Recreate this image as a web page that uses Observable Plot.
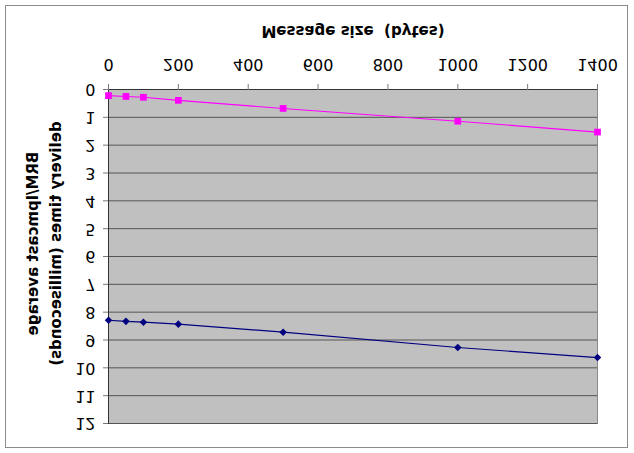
<!DOCTYPE html>
<html><head><meta charset="utf-8">
<script src="https://cdn.jsdelivr.net/npm/d3@7"></script>
<script src="https://cdn.jsdelivr.net/npm/@observablehq/plot@0.6"></script>
<style>
body{margin:0;background:#fff;}
#wrap{position:relative;width:634px;height:453px;overflow:hidden;}
#chart{width:634px;height:453px;transform:scaleY(-1);transform-origin:50% 50%;}
#chart svg{display:block;}
#border{position:absolute;left:5px;top:5px;width:621px;height:441px;border:1px solid #8c8c8c;pointer-events:none;}
</style></head><body>
<div id="wrap"><div id="chart"></div><div id="border"></div></div>
<script>
// Data read from the (vertically mirrored) reference chart
const messageSizes = [0, 50, 100, 200, 500, 1000, 1400];
const brmTimes = [0.22, 0.25, 0.28, 0.39, 0.68, 1.14, 1.53];
const lpmcastTimes = [8.29, 8.33, 8.36, 8.43, 8.72, 9.27, 9.63];
const xTicks = [0, 200, 400, 600, 800, 1000, 1200, 1400];
const yTicks = [0, 1, 2, 3, 4, 5, 6, 7, 8, 9, 10, 11, 12];
const xTitle = "Message size  (bytes)";
const yTitle = "BRM/lpmcast average\ndelivery times (milliseconds)";

const brm = messageSizes.map((x, i) => ({x, y: brmTimes[i]}));
const lpm = messageSizes.map((x, i) => ({x, y: lpmcastTimes[i]}));

const chart = Plot.plot({
  width: 634,
  height: 453,
  marginLeft: 108,
  marginRight: 37,
  marginTop: 29,
  marginBottom: 90,
  style: {fontFamily: "DejaVu Sans", fontSize: "16px", color: "black", background: "transparent"},
  x: {domain: [0, 1400]},
  y: {domain: [0, 12]},
  marks: [
    Plot.frame({fill: "#C0C0C0", stroke: "#8a8a8a"}),
    Plot.gridY(yTicks, {stroke: "#555", strokeOpacity: 1}),
    Plot.ruleX([0], {stroke: "#333"}),
    Plot.ruleY([0], {stroke: "#333"}),
    Plot.axisX(xTicks, {tickSize: 6, tickPadding: 13, fontSize: 16, label: null, stroke: "#777", fill: "black", tickFormat: d => String(d)}),
    Plot.axisY(yTicks, {tickSize: 5, tickPadding: 8, fontSize: 16, label: null, stroke: "#777", fill: "black", tickFormat: d => String(d)}),
    Plot.line(brm, {x: "x", y: "y", stroke: "#FF00FF", strokeWidth: 1.1}),
    Plot.dot(brm, {x: "x", y: "y", symbol: "square", r: 3.8, fill: "#FF00FF", stroke: "none"}),
    Plot.line(lpm, {x: "x", y: "y", stroke: "#000080", strokeWidth: 1.2}),
    Plot.dot(lpm, {x: "x", y: "y", symbol: "diamond2", r: 3.4, fill: "#000080", stroke: "none"}),
    Plot.text([xTitle], {text: d => d, frameAnchor: "bottom", dy: 64, lineAnchor: "bottom", fontWeight: "bold", fontSize: 15, fill: "black"}),
    Plot.text([yTitle], {text: d => d, frameAnchor: "left", textAnchor: "middle", rotate: -90, dx: -66, dy: 13, lineAnchor: "middle", lineHeight: 1.53, fontWeight: "bold", fontSize: 15, fill: "black"})
  ]
});
document.getElementById("chart").appendChild(chart);
</script>
</body></html>
